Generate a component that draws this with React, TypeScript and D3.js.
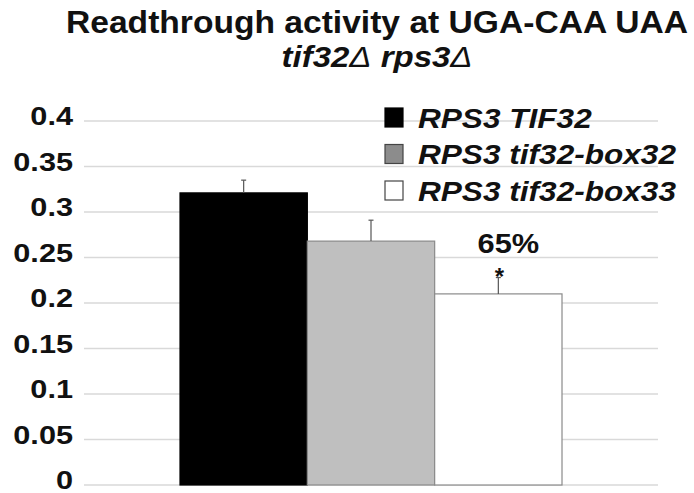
import React, { useEffect, useRef } from 'react';
import * as d3 from 'd3';

const categories = ['RPS3 TIF32', 'RPS3 tif32-box32', 'RPS3 tif32-box33'];
const values = [0.321, 0.268, 0.21];
const errors = [0.014, 0.023, 0.018];
const fills = ['#000000', '#bfbfbf', '#ffffff'];
const legendFills = ['#000000', '#8c8c8c', '#ffffff'];
const yTicks = [0, 0.05, 0.1, 0.15, 0.2, 0.25, 0.3, 0.35, 0.4];
const yTickLabels = ['0', '0.05', '0.1', '0.15', '0.2', '0.25', '0.3', '0.35', '0.4'];
const annotation = '65%';

export default function App() {
  const svgRef = useRef<SVGSVGElement>(null);

  useEffect(() => {
    const svg = d3.select(svgRef.current);
    svg.selectAll('*').remove();

    const width = 694;
    const height = 493;
    const font = 'Liberation Sans, Arial, sans-serif';

    svg.attr('width', width).attr('height', height);
    svg.append('rect').attr('width', width).attr('height', height).attr('fill', '#fff');

    const left = 84;
    const right = 658;
    const top = 121;
    const bottom = 485;

    const y = d3.scaleLinear().domain([0, 0.4]).range([bottom, top]);
    const x0 = d3.scaleBand().domain(['group']).range([left, right]).paddingOuter(0.2513).paddingInner(0);
    const x1 = d3.scaleBand().domain(categories).range([0, x0.bandwidth()]);

    // title
    svg.append('text')
      .attr('transform', 'translate(377,33) scale(1.05,1)')
      .attr('text-anchor', 'middle')
      .attr('font-family', font)
      .attr('font-weight', 'bold')
      .attr('font-size', 32)
      .attr('fill', '#111')
      .text('Readthrough activity at UGA-CAA UAA');

    const sub = svg.append('text')
      .attr('transform', 'translate(377,67) scale(1.1,1)')
      .attr('text-anchor', 'middle')
      .attr('font-family', font)
      .attr('font-style', 'italic')
      .attr('font-size', 30)
      .attr('fill', '#111');
    sub.append('tspan').attr('font-weight', 'bold').text('tif32');
    sub.append('tspan').attr('font-weight', 'normal').text('\u0394');
    sub.append('tspan').attr('font-weight', 'bold').text(' rps3');
    sub.append('tspan').attr('font-weight', 'normal').text('\u0394');

    // grid
    svg.append('g')
      .selectAll('line')
      .data(yTicks)
      .join('line')
      .attr('x1', left)
      .attr('x2', right)
      .attr('y1', d => y(d))
      .attr('y2', d => y(d))
      .attr('stroke', '#d9d9d9')
      .attr('stroke-width', 1.5);

    // y labels
    svg.append('g')
      .selectAll('text')
      .data(yTicks)
      .join('text')
      .attr('transform', d => `translate(73,${y(d) + 4}) scale(1.18,1)`)
      .attr('text-anchor', 'end')
      .attr('font-family', font)
      .attr('font-weight', 'bold')
      .attr('font-size', 26)
      .attr('fill', '#111')
      .text((d, i) => yTickLabels[i]);

    // bars
    const g = svg.append('g').attr('transform', `translate(${x0('group')},0)`);
    g.selectAll('rect')
      .data(values)
      .join('rect')
      .attr('x', (d, i) => x1(categories[i])!)
      .attr('y', d => y(d))
      .attr('width', x1.bandwidth())
      .attr('height', d => bottom - y(d))
      .attr('fill', (d, i) => fills[i])
      .attr('stroke', (d, i) => (i === 0 ? '#000' : '#8a8a8a'))
      .attr('stroke-width', 1.2);

    // error bars
    const eb = g.selectAll('g.err')
      .data(values)
      .join('g')
      .attr('class', 'err')
      .attr('transform', (d, i) => `translate(${x1(categories[i])! + x1.bandwidth() / 2},0)`);
    eb.append('line')
      .attr('y1', d => y(d))
      .attr('y2', (d, i) => y(d + errors[i]))
      .attr('stroke', '#555')
      .attr('stroke-width', 1.2);
    eb.append('line')
      .attr('x1', -2.5)
      .attr('x2', 2.5)
      .attr('y1', (d, i) => y(d + errors[i]))
      .attr('y2', (d, i) => y(d + errors[i]))
      .attr('stroke', '#555')
      .attr('stroke-width', 1.2);

    // annotation over last bar
    const cx = x0('group')! + x1(categories[2])! + x1.bandwidth() / 2;
    svg.append('text')
      .attr('transform', `translate(${cx + 10},253) scale(1.1,1)`)
      .attr('text-anchor', 'middle')
      .attr('font-family', font)
      .attr('font-weight', 'bold')
      .attr('font-size', 28)
      .attr('fill', '#111')
      .text(annotation);
    svg.append('text')
      .attr('x', cx + 1)
      .attr('y', 285)
      .attr('text-anchor', 'middle')
      .attr('font-family', font)
      .attr('font-weight', 'bold')
      .attr('font-size', 24)
      .attr('fill', '#111')
      .text('*');

    // legend
    const legend = svg.append('g')
      .selectAll('g')
      .data(categories)
      .join('g')
      .attr('transform', (d, i) => `translate(385,${108 + i * 36.5})`);
    legend.append('rect')
      .attr('width', 18)
      .attr('height', 19)
      .attr('fill', (d, i) => legendFills[i])
      .attr('stroke', (d, i) => (i === 0 ? '#000' : '#444'))
      .attr('stroke-width', 1.2);
    legend.append('text')
      .attr('transform', 'translate(33,19.5) scale(1.17,1)')
      .attr('font-family', font)
      .attr('font-weight', 'bold')
      .attr('font-style', 'italic')
      .attr('font-size', 27)
      .attr('fill', '#111')
      .text(d => d);
  }, []);

  return (
    <div style={{ position: 'absolute', left: 0, top: 0 }}>
      <svg ref={svgRef}></svg>
    </div>
  );
}
